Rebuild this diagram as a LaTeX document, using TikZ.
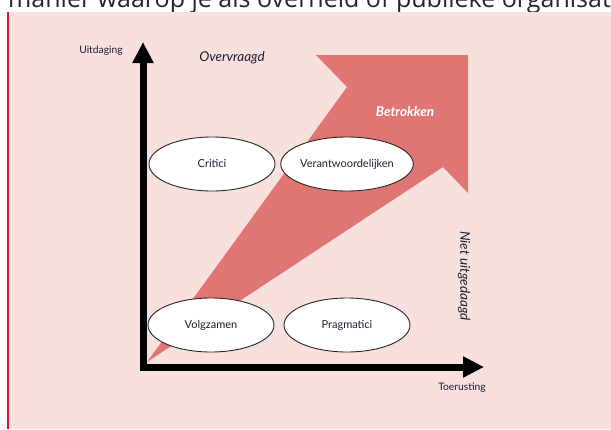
\documentclass[tikz,border=0pt]{standalone}
\usepackage{fontspec}
\setmainfont{Lato}
\newfontfamily\topfont{Open Sans}
\usetikzlibrary{arrows.meta,shapes.geometric}
\definecolor{panelpink}{RGB}{248,225,221}
\definecolor{arrowred}{RGB}{224,118,116}
\definecolor{edgered}{RGB}{222,20,60}
\definecolor{inkc}{RGB}{30,30,48}
\tikzset{
  quad/.style={ellipse, draw=black!85, line width=0.9pt, fill=white,
    minimum width=126pt, minimum height=54pt, inner sep=0pt,
    font=\fontsize{11}{13}\selectfont, text=inkc},
  axislab/.style={font=\fontsize{10.3}{12}\selectfont, text=inkc, inner sep=0pt},
  zonelab/.style={font=\fontsize{13.5}{15}\selectfont\itshape, text=inkc, inner sep=0pt},
  axisline/.style={line width=7pt, draw=black,
    {Triangle[width=20pt,length=21pt]}-{Triangle[width=20pt,length=21pt]}}
}
\begin{document}
\begin{tikzpicture}[x=1pt,y=-1pt]
\useasboundingbox (0,0) rectangle (611,429);
\fill[white] (0,0) rectangle (611,429);
% cut-off running text at the top
\begin{scope}
\clip (0,0) rectangle (611,12);
\node[anchor=base west, inner sep=0pt, font=\fontsize{25}{28}\selectfont\topfont, text=black!85]
  (toptext) at (8,7) {manier waarop je als overheid of publieke organisatie};
\end{scope}
% panel
\fill[panelpink] (8,12) rectangle (611,429);
\fill[edgered] (7,12) rectangle (9.4,429);
% big arrow
\coordinate (tail) at (147,362);
\coordinate (innerA) at (347,87);
\coordinate (cornerA) at (316,55);
\coordinate (tipC) at (468,55);
\coordinate (cornerB) at (468,193);
\coordinate (innerB) at (443,167);
\fill[arrowred] (tail) -- (innerA) -- (cornerA) -- (tipC) -- (cornerB) -- (innerB) -- cycle;
% axes
\coordinate (ytip) at (143,42);
\coordinate (origin) at (143,367);
\coordinate (xtip) at (484,367);
\draw[axisline] (ytip) -- (origin) -- (xtip);
% quadrant ellipses
\node[quad] (critici) at (212,164) {Critici};
\node[quad] (verant) at (347,164) {Verantwoordelijken};
\node[quad] (volg) at (211,325) {Volgzamen};
\node[quad] (prag) at (347,325) {Pragmatici};
% labels
\node[axislab] (uitd) at (101,51) {Uitdaging};
\node[axislab] (toer) at (462,388) {Toerusting};
\node[zonelab] (overv) at (232,58) {Overvraagd};
\node[zonelab, rotate=-90] (niet) at (464,276) {Niet uitgedaagd};
\node[inner sep=0pt, text=white, font=\fontsize{13.5}{15}\selectfont\bfseries\itshape] (betr) at (405,112) {Betrokken};
\end{tikzpicture}
\end{document}
